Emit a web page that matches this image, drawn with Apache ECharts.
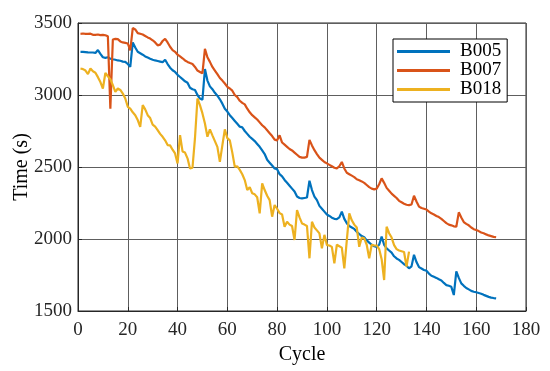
<!DOCTYPE html>
<html>
<head>
<meta charset="utf-8">
<script src="https://cdn.jsdelivr.net/npm/echarts@6/dist/echarts.min.js"></script>
<style>html,body{margin:0;padding:0;background:#fff}#c{width:550px;height:371px}</style>
</head>
<body>
<div id="c"></div>
<script>
var seriesNames = ['B005', 'B007', 'B018'];
var xTicks = [0, 20, 40, 60, 80, 100, 120, 140, 160, 180];
var yTicks = [1500, 2000, 2500, 3000, 3500];

var b005 = [3300,3300,3298,3296,3295,3295,3292,3312,3285,3262,3258,3262,3252,3248,3245,3240,3238,3232,3230,3215,
3196,3365,3330,3300,3290,3280,3268,3260,3252,3245,3240,3236,3232,3228,3245,3215,3190,3172,3160,3140,
3125,3110,3095,3085,3050,3040,3035,3000,2975,2968,3180,3100,3060,3040,3015,2995,2970,2940,2905,2885,
2860,2840,2820,2800,2780,2775,2750,2730,2710,2695,2680,2660,2640,2615,2590,2550,2530,2510,2490,2485,
2450,2435,2410,2390,2370,2350,2330,2295,2285,2282,2285,2288,2405,2340,2295,2270,2230,2210,2190,2170,
2160,2148,2140,2138,2150,2190,2140,2110,2090,2080,2070,2050,2035,2020,2012,1990,1975,1960,1950,1945,
1960,2016,1960,1935,1920,1905,1880,1865,1855,1840,1825,1815,1796,1810,1890,1840,1805,1795,1785,1780,
1760,1745,1738,1730,1720,1712,1695,1680,1675,1668,1611,1775,1730,1692,1675,1660,1650,1640,1634,1630,
1625,1620,1612,1605,1598,1593,1590,1588];

var b007 = [3425,3427,3425,3425,3426,3418,3418,3420,3416,3418,3415,3408,2905,3385,3390,3388,3372,3365,3362,3358,
3310,3465,3455,3430,3425,3420,3410,3400,3392,3380,3365,3345,3350,3375,3390,3365,3335,3312,3300,3280,
3268,3255,3240,3230,3222,3215,3195,3170,3160,3150,3320,3262,3230,3195,3170,3145,3118,3100,3080,3057,
3045,3030,3000,2985,2960,2945,2935,2905,2880,2860,2845,2830,2810,2790,2775,2755,2735,2715,2690,2685,
2720,2670,2655,2640,2625,2615,2600,2585,2570,2565,2565,2570,2688,2650,2617,2590,2565,2550,2535,2525,
2515,2505,2495,2490,2505,2535,2490,2460,2450,2440,2430,2415,2408,2400,2390,2375,2360,2350,2345,2350,
2380,2421,2390,2355,2335,2315,2300,2285,2265,2255,2245,2238,2235,2240,2300,2260,2225,2215,2210,2205,
2190,2178,2170,2160,2152,2140,2125,2110,2100,2095,2088,2085,2185,2150,2118,2105,2095,2080,2068,2062,
2055,2045,2040,2032,2025,2020,2015,2012];

var b018 = [3184,3180,3170,3145,3184,3165,3155,3124,3090,3045,3153,3130,3110,3068,3022,3045,3035,3010,2976,2918,
2905,2880,2860,2826,2779,2930,2900,2860,2840,2794,2780,2756,2730,2710,2685,2652,2650,2620,2594,2525,
2721,2608,2600,2560,2490,2495,2700,2976,2930,2872,2802,2710,2761,2720,2680,2640,2536,2650,2761,2700,
2685,2600,2501,2505,2480,2450,2409,2340,2360,2318,2310,2290,2178,2386,2340,2300,2270,2155,2236,2210,
2180,2170,2085,2120,2100,2090,1993,2201,2150,2108,2100,2090,1866,2120,2080,2060,2039,1935,2029,1958,
1955,1945,1831,1960,1950,1940,1796,1990,2178,2130,2100,2080,1946,2010,2005,1960,1866,1960,1955,1955,
1930,1860,1715,2085,2040,2010,1958,1930,1920,1915,1910,1808,1912];

var colors = ['#0072BD', '#D95319', '#EDB120'];
function toPairs(arr) { return arr.map(function (v, i) { return [i + 1, v]; }); }
var allData = [b005, b007, b018];

var font = '"Liberation Serif", "Times New Roman", serif';
var chart = echarts.init(document.getElementById('c'), null, {renderer: 'canvas'});
chart.setOption({
  animation: false,
  backgroundColor: '#fff',
  color: colors,
  grid: {left: 78, right: 24, top: 23, bottom: 60, containLabel: false, outerBoundsMode: 'none',
         show: true, borderColor: '#262626', borderWidth: 1, backgroundColor: 'transparent'},
  legend: {
    orient: 'vertical', left: 393, top: 39,
    backgroundColor: '#fff', borderColor: '#000', borderWidth: 1,
    padding: [3, 6, 3, 4], itemGap: 0,
    icon: 'rect', itemWidth: 53, itemHeight: 3,
    textStyle: {fontFamily: font, fontSize: 19, color: '#000', lineHeight: 17.5, padding: [0, 0, 0, 5]},
    data: seriesNames
  },
  xAxis: {
    type: 'value', min: xTicks[0], max: xTicks[xTicks.length - 1], interval: 20,
    name: 'Cycle', nameLocation: 'middle', nameGap: 34, nameMoveOverlap: false,
    nameTextStyle: {fontFamily: font, fontSize: 20, color: '#000'},
    axisLine: {show: true, lineStyle: {color: '#262626', width: 1}},
    axisTick: {show: true, inside: true, length: 4, lineStyle: {color: '#262626'}},
    axisLabel: {fontFamily: font, fontSize: 19, color: '#262626', margin: 10, formatter: function (v) { return String(v); }},
    splitLine: {show: true, lineStyle: {color: '#5e5e5e', width: 1}}
  },
  yAxis: {
    type: 'value', min: yTicks[0], max: yTicks[yTicks.length - 1], interval: 500,
    name: 'Time (s)', nameLocation: 'middle', nameGap: 46, nameRotate: 90, nameMoveOverlap: false,
    nameTextStyle: {fontFamily: font, fontSize: 20, color: '#000'},
    axisLine: {show: true, lineStyle: {color: '#262626', width: 1}},
    axisTick: {show: true, inside: true, length: 4, lineStyle: {color: '#262626'}},
    axisLabel: {fontFamily: font, fontSize: 19, color: '#262626', margin: 6, formatter: function (v) { return String(v); }},
    splitLine: {show: true, lineStyle: {color: '#5e5e5e', width: 1}}
  },
  series: seriesNames.map(function (n, k) {
    return {
      name: n, type: 'line', data: toPairs(allData[k]), showSymbol: false, symbol: 'none',
      lineStyle: {width: 2.2, color: colors[k]}, itemStyle: {color: colors[k]}
    };
  })
});
</script>
</body>
</html>
